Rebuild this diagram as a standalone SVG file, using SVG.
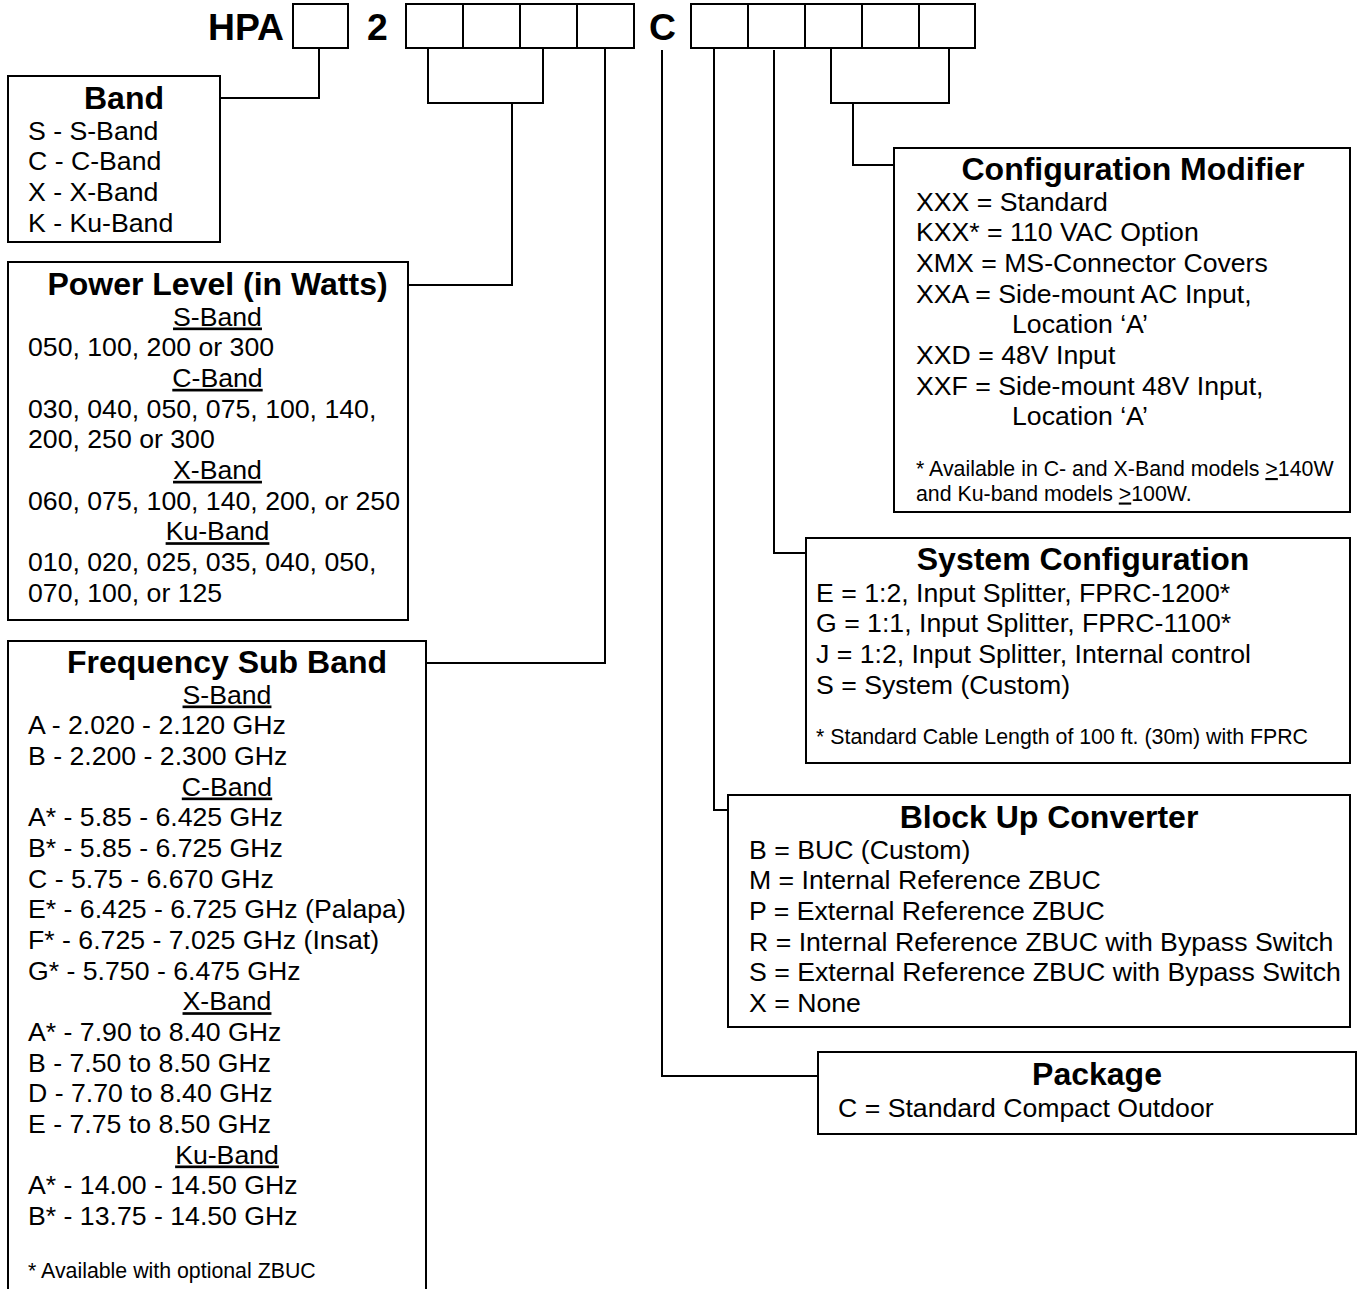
<svg xmlns="http://www.w3.org/2000/svg" width="1357" height="1289" viewBox="0 0 1357 1289">
<style>
text{font-family:"Liberation Sans",Arial,sans-serif;fill:#000}
.big{font-size:37.33px;font-weight:bold}
.t{font-size:32px;font-weight:bold;text-anchor:middle}
.b{font-size:26.67px}
.c{font-size:26.67px;text-anchor:middle;text-decoration:underline}
.f{font-size:21.33px}
.box{fill:#fff;stroke:#000;stroke-width:2}
.cn{fill:none;stroke:#000;stroke-width:2}
</style>
<rect width="1357" height="1289" fill="#fff"/>
<g id="code">
<text class="big" x="208" y="40">HPA</text>
<rect class="box" x="293" y="4" width="55" height="44"/>
<text class="big" x="367" y="40">2</text>
<rect class="box" x="406" y="4" width="228" height="44"/>
<path class="cn" d="M463,4V48M520,4V48M577,4V48"/>
<text class="big" x="649" y="40">C</text>
<rect class="box" x="691" y="4" width="284" height="44"/>
<path class="cn" d="M748,4V48M805,4V48M862,4V48M919,4V48"/>
</g>
<g id="connectors">
<path class="cn" d="M319,48V98H221"/>
<path class="cn" d="M428,48V103H543V48M512,103V285H409"/>
<path class="cn" d="M605,48V663H427"/>
<path class="cn" d="M662,50V1076H818"/>
<path class="cn" d="M714,48V810H728"/>
<path class="cn" d="M774,50V553H806"/>
<path class="cn" d="M831,48V103H949V48M853,103V165H894"/>
</g>
<g id="band">
<rect class="box" x="8" y="76" width="212" height="166"/>
<text class="t" x="124" y="108.5">Band</text>
<text class="b" x="28" y="139.5">S - S-Band</text>
<text class="b" x="28" y="170.2">C - C-Band</text>
<text class="b" x="28" y="200.8">X - X-Band</text>
<text class="b" x="28" y="231.5">K - Ku-Band</text>
</g>
<g id="power">
<rect class="box" x="8" y="262" width="400" height="358"/>
<text class="t" x="217.5" y="294.5">Power Level (in Watts)</text>
<text class="c" x="217.5" y="325.5">S-Band</text>
<text class="b" x="28" y="356.2">050, 100, 200 or 300</text>
<text class="c" x="217.5" y="386.8">C-Band</text>
<text class="b" x="28" y="417.5">030, 040, 050, 075, 100, 140,</text>
<text class="b" x="28" y="448.2">200, 250 or 300</text>
<text class="c" x="217.5" y="478.8">X-Band</text>
<text class="b" x="28" y="509.5">060, 075, 100, 140, 200, or 250</text>
<text class="c" x="217.5" y="540.2">Ku-Band</text>
<text class="b" x="28" y="570.8">010, 020, 025, 035, 040, 050,</text>
<text class="b" x="28" y="601.5">070, 100, or 125</text>
</g>
<g id="freq">
<path class="box" d="M8,1290V641H426V1290"/>
<text class="t" x="227" y="672.5">Frequency Sub Band</text>
<text class="c" x="227" y="703.5">S-Band</text>
<text class="b" x="28" y="734.2">A - 2.020 - 2.120 GHz</text>
<text class="b" x="28" y="764.8">B - 2.200 - 2.300 GHz</text>
<text class="c" x="227" y="795.5">C-Band</text>
<text class="b" x="28" y="826.2">A* - 5.85 - 6.425 GHz</text>
<text class="b" x="28" y="856.8">B* - 5.85 - 6.725 GHz</text>
<text class="b" x="28" y="887.5">C - 5.75 - 6.670 GHz</text>
<text class="b" x="28" y="918.2">E* - 6.425 - 6.725 GHz (Palapa)</text>
<text class="b" x="28" y="948.8">F* - 6.725 - 7.025 GHz (Insat)</text>
<text class="b" x="28" y="979.5">G* - 5.750 - 6.475 GHz</text>
<text class="c" x="227" y="1010.2">X-Band</text>
<text class="b" x="28" y="1040.8">A* - 7.90 to 8.40 GHz</text>
<text class="b" x="28" y="1071.5">B - 7.50 to 8.50 GHz</text>
<text class="b" x="28" y="1102.2">D - 7.70 to 8.40 GHz</text>
<text class="b" x="28" y="1132.8">E - 7.75 to 8.50 GHz</text>
<text class="c" x="227" y="1163.5">Ku-Band</text>
<text class="b" x="28" y="1194.2">A* - 14.00 - 14.50 GHz</text>
<text class="b" x="28" y="1224.8">B* - 13.75 - 14.50 GHz</text>
<text class="f" x="28" y="1277.5">* Available with optional ZBUC</text>
</g>
<g id="config-modifier">
<rect class="box" x="894" y="148" width="456" height="364"/>
<text class="t" x="1133" y="179.5">Configuration Modifier</text>
<text class="b" x="916" y="210.5">XXX = Standard</text>
<text class="b" x="916" y="241.2">KXX* = 110 VAC Option</text>
<text class="b" x="916" y="271.8">XMX = MS-Connector Covers</text>
<text class="b" x="916" y="302.5">XXA = Side-mount AC Input,</text>
<text class="b" x="1012" y="333.2">Location ‘A’</text>
<text class="b" x="916" y="363.8">XXD = 48V Input</text>
<text class="b" x="916" y="394.5">XXF = Side-mount 48V Input,</text>
<text class="b" x="1012" y="425.2">Location ‘A’</text>
<text class="f" x="916" y="476">* Available in C- and X-Band models <tspan text-decoration="underline">&gt;</tspan>140W</text>
<text class="f" x="916" y="500.5">and Ku-band models <tspan text-decoration="underline">&gt;</tspan>100W.</text>
</g>
<g id="system-configuration">
<rect class="box" x="806" y="538" width="544" height="225"/>
<text class="t" x="1083" y="569.5">System Configuration</text>
<text class="b" x="816" y="601.5">E = 1:2, Input Splitter, FPRC-1200*</text>
<text class="b" x="816" y="632.2">G = 1:1, Input Splitter, FPRC-1100*</text>
<text class="b" x="816" y="662.8">J = 1:2, Input Splitter, Internal control</text>
<text class="b" x="816" y="693.5">S = System (Custom)</text>
<text class="f" x="816" y="743.5">* Standard Cable Length of 100 ft. (30m) with FPRC</text>
</g>
<g id="block-up-converter">
<rect class="box" x="728" y="795" width="622" height="232"/>
<text class="t" x="1049" y="827.5">Block Up Converter</text>
<text class="b" x="749" y="858.5">B = BUC (Custom)</text>
<text class="b" x="749" y="889.2">M = Internal Reference ZBUC</text>
<text class="b" x="749" y="919.8">P = External Reference ZBUC</text>
<text class="b" x="749" y="950.5">R = Internal Reference ZBUC with Bypass Switch</text>
<text class="b" x="749" y="981.2">S = External Reference ZBUC with Bypass Switch</text>
<text class="b" x="749" y="1011.8">X = None</text>
</g>
<g id="package">
<rect class="box" x="818" y="1052" width="538" height="82"/>
<text class="t" x="1097" y="1084.5">Package</text>
<text class="b" x="838" y="1116.5">C = Standard Compact Outdoor</text>
</g>
</svg>
